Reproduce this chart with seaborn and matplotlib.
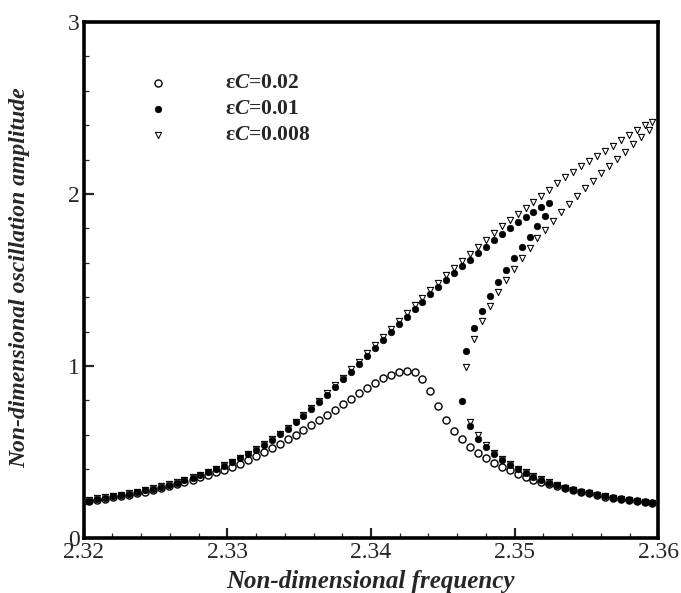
import matplotlib
matplotlib.use("Agg")
import matplotlib.pyplot as plt
import pandas as pd
import seaborn as sns
from matplotlib.ticker import MultipleLocator

# ---------------- data ----------------
freq = [2.32040, 2.32095, 2.32150, 2.32206, 2.32261, 2.32316, 2.32371, 2.32426,
        2.32482, 2.32537, 2.32592, 2.32647, 2.32702, 2.32758, 2.32813, 2.32868,
        2.32923, 2.32978, 2.33034, 2.33089, 2.33144, 2.33199, 2.33254, 2.33310,
        2.33365, 2.33420, 2.33475, 2.33530, 2.33586, 2.33641, 2.33696, 2.33751,
        2.33806, 2.33862, 2.33917, 2.33972, 2.34027, 2.34082, 2.34138, 2.34193,
        2.34248, 2.34303, 2.34358, 2.34414, 2.34469, 2.34524, 2.34579, 2.34634,
        2.34690, 2.34745, 2.34800, 2.34855, 2.34910, 2.34966, 2.35021, 2.35076,
        2.35131, 2.35186, 2.35242, 2.35297, 2.35352, 2.35407, 2.35462, 2.35518,
        2.35573, 2.35628, 2.35683, 2.35738, 2.35794, 2.35849, 2.35904, 2.35959]

freq_mid = [2.34662, 2.34717, 2.34772, 2.34828, 2.34883, 2.34938, 2.34993, 2.35048,
            2.35104, 2.35159, 2.35214, 2.35269, 2.35324, 2.35380, 2.35435, 2.35490,
            2.35545, 2.35600, 2.35656, 2.35711, 2.35766, 2.35821, 2.35876, 2.35932]

# eps*C = 0.02 (single branch)
amp_002 = [0.214, 0.221, 0.228, 0.236, 0.244, 0.252, 0.261, 0.270, 0.280, 0.290,
           0.301, 0.313, 0.325, 0.338, 0.352, 0.366, 0.381, 0.397, 0.414, 0.432,
           0.452, 0.475, 0.499, 0.524, 0.548, 0.573, 0.599, 0.627, 0.655, 0.685,
           0.716, 0.747, 0.779, 0.811, 0.843, 0.874, 0.903, 0.928, 0.950, 0.965,
           0.971, 0.963, 0.926, 0.855, 0.766, 0.687, 0.625, 0.575, 0.531, 0.496,
           0.466, 0.439, 0.413, 0.393, 0.373, 0.356, 0.340, 0.326, 0.313, 0.301,
           0.290, 0.279, 0.269, 0.259, 0.249, 0.241, 0.233, 0.226, 0.219, 0.213,
           0.207, 0.201]

# eps*C = 0.01
amp_001_upper = [0.217, 0.227, 0.234, 0.242, 0.250, 0.258, 0.267, 0.277, 0.287, 0.298,
                 0.310, 0.322, 0.335, 0.351, 0.366, 0.382, 0.399, 0.419, 0.440, 0.463,
                 0.488, 0.514, 0.542, 0.572, 0.603, 0.636, 0.672, 0.710, 0.750, 0.791,
                 0.833, 0.877, 0.922, 0.968, 1.014, 1.060, 1.106, 1.152, 1.198, 1.243,
                 1.287, 1.331, 1.374, 1.417, 1.459, 1.500, 1.541, 1.580, 1.618, 1.656,
                 1.694, 1.731, 1.766, 1.800, 1.835, 1.868, 1.897, 1.922, 1.946]
freq_001_mid = [2.34634] + freq_mid[:11]
amp_001_mid = [0.795, 1.087, 1.221, 1.322, 1.409, 1.488, 1.558, 1.626, 1.692, 1.752,
               1.813, 1.872]
amp_001_lower = [0.651, 0.578, 0.529, 0.488, 0.453, 0.424, 0.399, 0.378, 0.357, 0.339,
                 0.322, 0.306, 0.292, 0.281, 0.269, 0.260, 0.250, 0.242, 0.234, 0.227,
                 0.221, 0.215, 0.209, 0.203]

# eps*C = 0.008
amp_0008_upper = [0.220, 0.230, 0.237, 0.245, 0.253, 0.261, 0.270, 0.280, 0.290, 0.301,
                  0.313, 0.325, 0.338, 0.354, 0.369, 0.385, 0.402, 0.422, 0.443, 0.466,
                  0.491, 0.517, 0.545, 0.575, 0.606, 0.640, 0.677, 0.716, 0.757, 0.799,
                  0.842, 0.887, 0.933, 0.980, 1.026, 1.074, 1.122, 1.168, 1.217, 1.261,
                  1.307, 1.352, 1.396, 1.440, 1.484, 1.527, 1.570, 1.612, 1.653, 1.693,
                  1.733, 1.773, 1.812, 1.849, 1.884, 1.917, 1.955, 1.990, 2.023, 2.062,
                  2.097, 2.130, 2.163, 2.194, 2.223, 2.252, 2.281, 2.312, 2.341, 2.372,
                  2.399, 2.420]
amp_0008_mid = [0.996, 1.155, 1.262, 1.351, 1.428, 1.498, 1.563, 1.626, 1.687, 1.742,
                1.793, 1.844, 1.893, 1.943, 1.989, 2.033, 2.076, 2.120, 2.165, 2.205,
                2.247, 2.288, 2.330, 2.370]
amp_0008_lower = [0.676, 0.597, 0.541, 0.497, 0.460, 0.430, 0.404, 0.381, 0.360, 0.341,
                  0.324, 0.308, 0.293, 0.282, 0.270, 0.261, 0.251, 0.243, 0.235, 0.228,
                  0.222, 0.216, 0.210, 0.204]

labels = ["ε$C$=0.02", "ε$C$=0.01", "ε$C$=0.008"]
xtick_labels = ["2.32", "2.33", "2.34", "2.35", "2.36"]
ytick_labels = ["0", "1", "2", "3"]

# ---------------- tables ----------------
df_002 = pd.DataFrame({"f": freq, "a": amp_002})
df_001 = pd.DataFrame({
    "f": freq[:len(amp_001_upper)] + freq_001_mid + freq[48:],
    "a": amp_001_upper + amp_001_mid + amp_001_lower})
df_0008 = pd.DataFrame({
    "f": freq + freq_mid + freq[48:],
    "a": amp_0008_upper + amp_0008_mid + amp_0008_lower})

# ---------------- style ----------------
sns.set_theme(style="white")
plt.rcParams["font.family"] = ["Liberation Serif", "DejaVu Serif"]
plt.rcParams["mathtext.fontset"] = "custom"
plt.rcParams["mathtext.it"] = "Liberation Serif:italic:bold"
plt.rcParams["mathtext.rm"] = "Liberation Serif:bold"

fig = plt.figure(figsize=(6.81, 5.93), dpi=100)
ax = fig.add_axes([0.1228, 0.0927, 0.8439, 0.8702])

sns.scatterplot(data=df_002, x="f", y="a", ax=ax, marker="o", s=26,
                facecolor="white", edgecolor="black", linewidth=1.0,
                label=labels[0], zorder=2)
sns.scatterplot(data=df_0008, x="f", y="a", ax=ax, marker="v", s=20,
                facecolor="white", edgecolor="black", linewidth=0.75,
                label=labels[2], zorder=3)
sns.scatterplot(data=df_001, x="f", y="a", ax=ax, marker="o", s=22,
                facecolor="black", edgecolor="black", linewidth=0.5,
                label=labels[1], zorder=4)

ax.set_xlim(2.32, 2.36)
ax.set_ylim(0, 3)
ax.xaxis.set_minor_locator(MultipleLocator(0.002))
ax.yaxis.set_minor_locator(MultipleLocator(0.2))
ax.set_xticks([float(t) for t in xtick_labels])
ax.set_xticklabels(xtick_labels)
ax.set_yticks([float(t) for t in ytick_labels])
ax.set_yticklabels(ytick_labels)

ax.tick_params(axis="both", which="major", direction="in", length=7.5, width=1.6,
               labelsize=17, pad=3, top=False, right=False, bottom=True, left=True)
ax.tick_params(axis="both", which="minor", direction="in", length=3.8, width=0.9,
               top=False, right=False, bottom=True, left=True)
for sp in ax.spines.values():
    sp.set_linewidth(2.6)
    sp.set_color("black")

ax.set_xlabel("Non-dimensional frequency", labelpad=5, family="Liberation Serif",
              weight="bold", style="italic", size=18)
ax.set_ylabel("Non-dimensional oscillation amplitude", family="Liberation Serif",
              weight="bold", style="italic", size=17)
ax.yaxis.set_label_coords(-0.093, 0.505)

# legend in the original order
h, l = ax.get_legend_handles_labels()
order = [l.index(t) for t in labels]
ax.legend([h[i] for i in order], [l[i] for i in order], loc="upper left",
          bbox_to_anchor=(0.1107, 0.901), frameon=False, borderpad=0,
          borderaxespad=0, handlelength=1.0, handletextpad=2.62,
          labelspacing=0.28, scatterpoints=1,
          prop=dict(family="Liberation Serif", weight="bold", size=15.5))

fig.savefig("out.png", dpi=100)
